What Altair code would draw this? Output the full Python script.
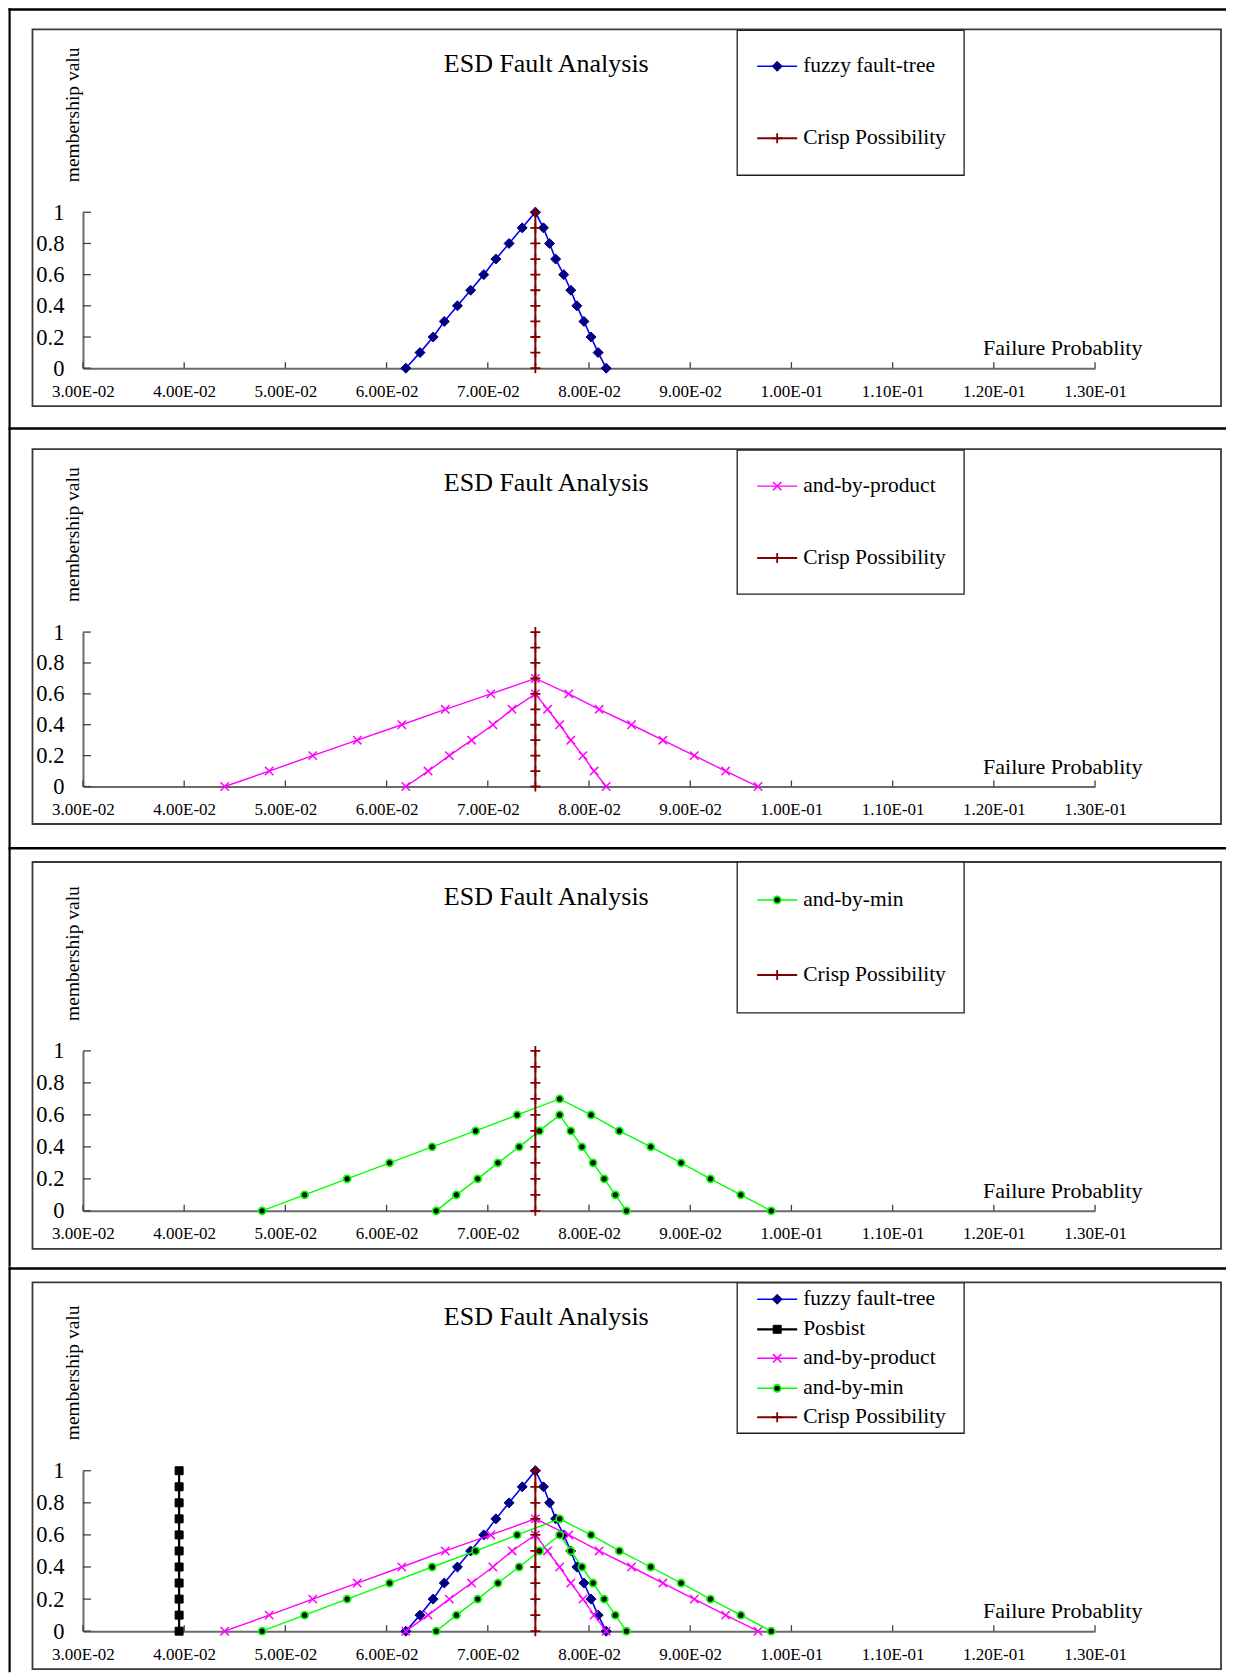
import altair as alt
import pandas as pd

# ------------------------------------------------------------------ data
FUZZY_X = [0.0619, 0.0633, 0.0646, 0.0657, 0.0670, 0.0683, 0.0696, 0.0708, 0.0721, 0.0734, 0.0747,
           0.0755, 0.0761, 0.0767, 0.0775, 0.0782, 0.0788, 0.0795, 0.0802, 0.0809, 0.0817]
FUZZY_Y = [0.0, 0.1, 0.2, 0.3, 0.4, 0.5, 0.6, 0.7, 0.8, 0.9, 1.0,
           0.9, 0.8, 0.7, 0.6, 0.5, 0.4, 0.3, 0.2, 0.1, 0.0]

POSBIST_X = [0.0395, 0.0395, 0.0395, 0.0395, 0.0395, 0.0395, 0.0395, 0.0395, 0.0395, 0.0395, 0.0395]
POSBIST_Y = [0.0, 0.1, 0.2, 0.3, 0.4, 0.5, 0.6, 0.7, 0.8, 0.9, 1.0]

PROD_OUTER_X = [0.0440, 0.0484, 0.0527, 0.0571, 0.0615, 0.0658, 0.0703, 0.0747,
                0.0780, 0.0810, 0.0842, 0.0873, 0.0904, 0.0935, 0.0967]
PROD_OUTER_Y = [0.0, 0.1, 0.2, 0.3, 0.4, 0.5, 0.6, 0.7, 0.6, 0.5, 0.4, 0.3, 0.2, 0.1, 0.0]
PROD_INNER_X = [0.0619, 0.0641, 0.0662, 0.0684, 0.0705, 0.0724, 0.0747,
                0.0759, 0.0771, 0.0782, 0.0794, 0.0805, 0.0817]
PROD_INNER_Y = [0.0, 0.1, 0.2, 0.3, 0.4, 0.5, 0.6, 0.5, 0.4, 0.3, 0.2, 0.1, 0.0]

MIN_OUTER_X = [0.0477, 0.0519, 0.0561, 0.0603, 0.0645, 0.0688, 0.0729, 0.0771,
               0.0802, 0.0830, 0.0861, 0.0891, 0.0920, 0.0950, 0.0980]
MIN_OUTER_Y = [0.0, 0.1, 0.2, 0.3, 0.4, 0.5, 0.6, 0.7, 0.6, 0.5, 0.4, 0.3, 0.2, 0.1, 0.0]
MIN_INNER_X = [0.0649, 0.0669, 0.0690, 0.0710, 0.0731, 0.0751, 0.0771,
               0.0782, 0.0793, 0.0804, 0.0815, 0.0826, 0.0837]
MIN_INNER_Y = [0.0, 0.1, 0.2, 0.3, 0.4, 0.5, 0.6, 0.5, 0.4, 0.3, 0.2, 0.1, 0.0]

CRISP_X = [0.0747, 0.0747, 0.0747, 0.0747, 0.0747, 0.0747, 0.0747, 0.0747, 0.0747, 0.0747, 0.0747]
CRISP_Y = [0.0, 0.1, 0.2, 0.3, 0.4, 0.5, 0.6, 0.7, 0.8, 0.9, 1.0]

X_TICKS = [0.03, 0.04, 0.05, 0.06, 0.07, 0.08, 0.09, 0.10, 0.11, 0.12, 0.13]
X_LABELS = ["3.00E-02", "4.00E-02", "5.00E-02", "6.00E-02", "7.00E-02", "8.00E-02",
            "9.00E-02", "1.00E-01", "1.10E-01", "1.20E-01", "1.30E-01"]
Y_TICKS = [0.0, 0.2, 0.4, 0.6, 0.8, 1.0]
Y_LABELS = ["0", "0.2", "0.4", "0.6", "0.8", "1"]

TITLE = "ESD Fault Analysis"
X_TITLE = "Failure Probablity"
Y_TITLE = "membership valu"

SERIES = {
    "fuzzy fault-tree": [(FUZZY_X, FUZZY_Y)],
    "Posbist": [(POSBIST_X, POSBIST_Y)],
    "and-by-product": [(PROD_OUTER_X, PROD_OUTER_Y), (PROD_INNER_X, PROD_INNER_Y)],
    "and-by-min": [(MIN_OUTER_X, MIN_OUTER_Y), (MIN_INNER_X, MIN_INNER_Y)],
    "Crisp Possibility": [(CRISP_X, CRISP_Y)],
}

# ------------------------------------------------------------------ styles
SERIF = "Liberation Serif"
XPATH = "M-1,-1L1,1M-1,1L1,-1"
PLUSPATH = "M-1,0L1,0M0,-1L0,1"
STYLES = {
    "fuzzy fault-tree": dict(line="#0000FF", lw=1.6, shape="diamond", filled=True,
                             fill="#000080", stroke="#000080", size=100, sw=1),
    "Posbist": dict(line="#000000", lw=2.2, shape="square", filled=True,
                    fill="#000000", stroke="#000000", size=64, sw=1),
    "and-by-product": dict(line="#FF00FF", lw=1.4, shape=XPATH, filled=False,
                           stroke="#FF00FF", size=70, sw=1.5),
    "and-by-min": dict(line="#00FF00", lw=1.4, shape="circle", filled=True,
                       fill="#000000", stroke="#00FF00", size=50, sw=1.8),
    "Crisp Possibility": dict(line="#800000", lw=2.0, shape=PLUSPATH, filled=False,
                              stroke="#800000", size=100, sw=1.8),
}

W = 1218              # panel width (page px)
X0, X1 = 74.5, 1087   # x pixel of 0.03 and 0.13 inside a panel
ONE = pd.DataFrame({"a": [0]})


def series_frame(parts):
    rows = []
    for p, (xs, ys) in enumerate(parts):
        for i, (xv, yv) in enumerate(zip(xs, ys)):
            rows.append({"x": xv, "y": yv, "part": p, "ord": i})
    return pd.DataFrame(rows)


def point_mark(st):
    if st["filled"]:
        return dict(shape=st["shape"], size=st["size"], filled=True, fill=st["fill"],
                    stroke=st["stroke"], strokeWidth=st["sw"], opacity=1)
    return dict(shape=st["shape"], size=st["size"], filled=False, color=st["stroke"],
                strokeWidth=st["sw"], opacity=1)


def text(t, x, y, size, align="left", angle=0):
    return alt.Chart(pd.DataFrame({"t": [t]})).mark_text(
        align=align, baseline="middle", font=SERIF, fontSize=size, color="black", angle=angle
    ).encode(text="t:N", x=alt.value(x), y=alt.value(y))


def band(x0, x1, y0, y1, color):
    # filled rectangle without stroke (exact bounds)
    return alt.Chart(ONE).mark_rect(fill=color).encode(
        x=alt.value(x0), x2=alt.value(x1), y=alt.value(y0), y2=alt.value(y1))


def panel(g, names, legend_entries):
    H = g["H"]
    ox, oy = X0, g["y1"]          # view origin inside the panel
    PW, PH = X1 - X0, g["y0"] - g["y1"]
    sx = alt.Scale(domain=[0.03, 0.13], nice=False, zero=False)
    sy = alt.Scale(domain=[0, 1], nice=False, zero=False)
    x_expr = str(X_LABELS).replace("'", '"') + "[round((datum.value-0.03)*100)]"
    y_expr = str(Y_LABELS).replace("'", '"') + "[round(datum.value*5)]"
    ax_x = alt.Axis(values=X_TICKS, labelExpr=x_expr, ticks=False, tickSize=0, grid=False,
                    title=None, domainColor="#6a6a6a", domainWidth=2, labelFont=SERIF,
                    labelFontSize=17, labelColor="black", labelPadding=23,
                    labelBaseline="middle", labelFlush=False, labelOverlap=False,
                    labelBound=False)
    ax_y = alt.Axis(values=Y_TICKS, labelExpr=y_expr, ticks=False, tickSize=0, grid=False,
                    title=None, domainColor="#6a6a6a", domainWidth=2, labelFont=SERIF,
                    labelFontSize=22.5, labelColor="black", labelPadding=19,
                    labelFlush=False, labelOverlap=False, labelBound=False)
    X = lambda f: alt.X(f, scale=sx, axis=ax_x)
    Y = lambda f: alt.Y(f, scale=sy, axis=ax_y)

    bx0, bx1, by0, by1 = g["box"]
    layers = [
        # panel frame: top and left edges
        band(-ox, W - ox, -oy, -oy + 2.5, "black"),
        band(-ox, -ox + 2.2, -oy, H - oy, "black"),
        # plot-area border
        alt.Chart(ONE).mark_rect(fill="white", fillOpacity=0, stroke="#3a3a3a",
                                 strokeWidth=1.8).encode(
            x=alt.value(bx0 - ox), x2=alt.value(bx1 - ox),
            y=alt.value(by0 - oy), y2=alt.value(by1 - oy)),
        # inside tick marks
        alt.Chart(pd.DataFrame({"v": X_TICKS})).mark_rule(color="#404040", strokeWidth=1.3).encode(
            x=X("v:Q"), y=alt.value(PH - 6), y2=alt.value(PH)),
        alt.Chart(pd.DataFrame({"v": Y_TICKS})).mark_rule(color="#404040", strokeWidth=1.3).encode(
            y=Y("v:Q"), x=alt.value(0), x2=alt.value(8)),
        text(TITLE, 538 - ox, g["title_y"] - oy, 26, align="center"),
        text(X_TITLE, 975 - ox, g["fail_y"] - oy, 22),
        text(Y_TITLE, 65 - ox, g["memb_y"] - oy, 19.5, angle=270),
    ]
    for n in names:
        st = STYLES[n]
        base = alt.Chart(series_frame(SERIES[n])).encode(x=X("x:Q"), y=Y("y:Q"))
        layers.append(base.mark_line(color=st["line"], strokeWidth=st["lw"]).encode(
            detail="part:N", order="ord:Q"))
        layers.append(base.mark_point(**point_mark(st)))

    lx0, lx1, ly0, ly1 = g["legend"]
    layers.append(alt.Chart(ONE).mark_rect(fill="white", stroke="#202020", strokeWidth=1.3).encode(
        x=alt.value(lx0 - ox), x2=alt.value(lx1 - ox),
        y=alt.value(ly0 - oy), y2=alt.value(ly1 - oy)))
    for name, ly in legend_entries:
        st = STYLES[name]
        layers.append(alt.Chart(ONE).mark_rule(color=st["line"], strokeWidth=st["lw"]).encode(
            x=alt.value(749 - ox), x2=alt.value(789 - ox), y=alt.value(ly - oy)))
        layers.append(alt.Chart(ONE).mark_point(**point_mark(st)).encode(
            x=alt.value(769 - ox), y=alt.value(ly - oy)))
        layers.append(text(name, 795 - ox, ly - oy, 21.5))
    return alt.layer(*layers).properties(width=PW, height=PH)


G1 = dict(H=419, y1=204, y0=360, box=(24, 1213, 21, 398),
          title_y=56, fail_y=340, memb_y=174, legend=(729, 956, 22, 167))
G2 = dict(H=420, y1=205, y0=359.5, box=(24, 1213, 22, 397),
          title_y=56, fail_y=340, memb_y=175, legend=(729, 956, 23, 167))
G3 = dict(H=420, y1=204, y0=364, box=(24, 1213, 15, 402),
          title_y=50.5, fail_y=344, memb_y=174, legend=(729, 956, 15, 166))
G4 = dict(H=405, y1=203.5, y0=364, box=(24, 1213, 15, 402),
          title_y=50, fail_y=344, memb_y=173, legend=(729, 956, 15.5, 166))

p1 = panel(G1, ["fuzzy fault-tree", "Crisp Possibility"],
           [("fuzzy fault-tree", 58), ("Crisp Possibility", 130)])
p2 = panel(G2, ["and-by-product", "Crisp Possibility"],
           [("and-by-product", 59), ("Crisp Possibility", 131)])
p3 = panel(G3, ["and-by-min", "Crisp Possibility"],
           [("and-by-min", 53), ("Crisp Possibility", 128)])
p4 = panel(G4, ["fuzzy fault-tree", "Posbist", "and-by-product", "and-by-min", "Crisp Possibility"],
           [("fuzzy fault-tree", 32), ("Posbist", 62), ("and-by-product", 91),
            ("and-by-min", 121), ("Crisp Possibility", 150)])

chart = alt.vconcat(p1, p2, p3, p4, spacing=0).properties(
    padding={"left": 0, "top": 0, "right": 0, "bottom": 0}, background="white"
).configure_view(stroke=None)

chart.save("out.html", embed_options={"renderer": "svg", "actions": False})
